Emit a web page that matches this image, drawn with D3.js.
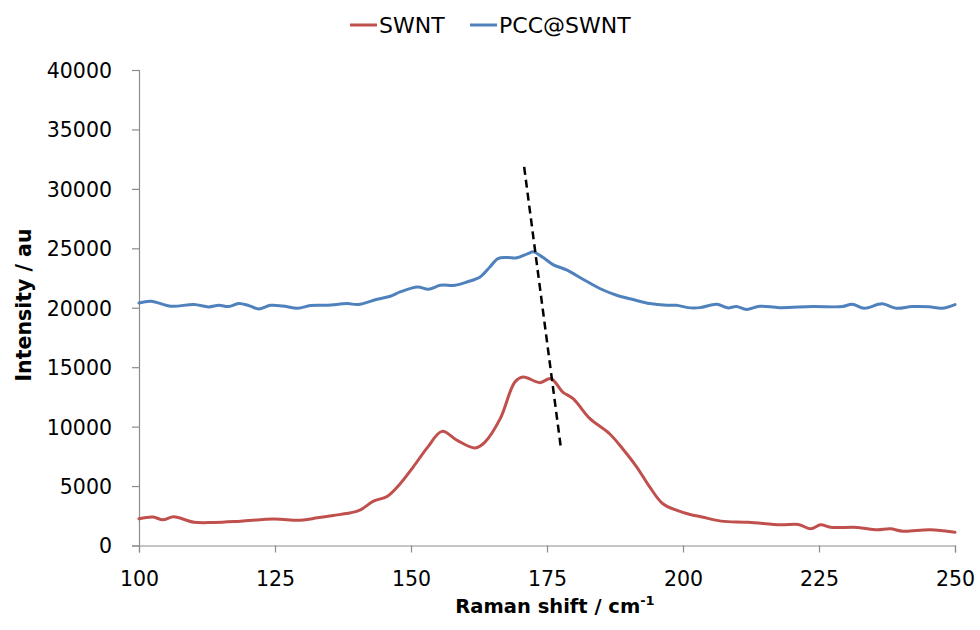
<!DOCTYPE html>
<html>
<head>
<meta charset="utf-8">
<script src="https://cdn.jsdelivr.net/npm/d3@7"></script>
<style>
  html, body { margin: 0; padding: 0; background: #fff; }
  svg text { font-family: "DejaVu Sans", sans-serif; fill: #000; }
</style>
</head>
<body>
<svg id="chart" width="980" height="630"></svg>
<script>
// ---- data ----
const seriesNames = ["SWNT", "PCC@SWNT"];
const seriesColors = ["#C0504D", "#4F81BD"];

const swntX = [100, 102.6, 104.4, 106.4, 110.1, 113.8, 118.7, 124.8, 129.7, 132.8, 135.7, 138.9, 140.7, 143.1, 145.6, 148.0, 150.4, 153.0, 155.7, 158.5, 161.8, 163.6, 166.4, 169.1, 170.6, 173.7, 175.7, 177.9, 179.8, 182.9, 186.5, 188.9, 191.5, 193.9, 196.3, 198.9, 201.3, 203.5, 207.0, 212.0, 218.0, 221.2, 223.5, 225.3, 227.1, 232.1, 235.7, 238.1, 240.5, 245.4, 250];
const swntY = [2250, 2390, 2160, 2410, 1960, 1940, 2050, 2220, 2130, 2330, 2530, 2750, 3000, 3730, 4130, 5200, 6600, 8230, 9600, 8840, 8200, 8700, 10670, 13750, 14170, 13700, 14050, 12910, 12350, 10670, 9400, 8140, 6600, 4910, 3510, 2950, 2610, 2400, 2050, 1960, 1740, 1770, 1400, 1740, 1540, 1520, 1320, 1400, 1200, 1320, 1120];

const pccX = [100, 102.2, 105.9, 110.1, 112.8, 114.7, 116.5, 118.3, 120.2, 122.0, 124.2, 126.4, 129.2, 131.5, 134.7, 138.3, 140.3, 143.8, 146.2, 148.0, 151.2, 153.2, 155.4, 158.1, 160.3, 162.7, 164.5, 166.0, 167.7, 169.5, 171.5, 172.5, 174.3, 176.1, 178.7, 181.6, 184.7, 187.8, 190.8, 193.9, 197.0, 198.8, 200.9, 203.1, 206.2, 208.2, 209.8, 211.7, 214.1, 217.7, 223.8, 229.3, 231.1, 233.3, 236.6, 239.2, 242.1, 245.2, 247.6, 250];
const pccY = [20400, 20550, 20130, 20270, 20070, 20210, 20100, 20350, 20180, 19900, 20210, 20150, 19960, 20180, 20210, 20350, 20270, 20720, 20970, 21330, 21750, 21560, 21890, 21890, 22170, 22590, 23430, 24140, 24220, 24200, 24560, 24700, 24220, 23630, 23160, 22400, 21620, 21050, 20690, 20350, 20210, 20210, 20010, 20010, 20300, 19990, 20100, 19850, 20130, 20010, 20100, 20100, 20300, 19960, 20330, 19960, 20100, 20080, 19960, 20270];

const xTicks = [100, 125, 150, 175, 200, 225, 250];
const yTicks = [0, 5000, 10000, 15000, 20000, 25000, 30000, 35000, 40000];

// dashed guide line (data coordinates)
const guideX = [170.8, 177.5];
const guideY = [31850, 8400];

const xTitle = "Raman shift / cm";
const xTitleSup = "-1";
const yTitle = "Intensity / au";

// ---- layout ----
const svg = d3.select("#chart");
const mLeft = 139, mRight = 955, mTop = 70, mBottom = 545.5;

const x = d3.scaleLinear().domain([100, 250]).range([mLeft, mRight]);
const y = d3.scaleLinear().domain([0, 40000]).range([mBottom, mTop]);

const axisColor = "#8c8c8c";

// y axis
const yAxis = svg.append("g")
  .attr("transform", `translate(${mLeft},0)`)
  .call(d3.axisLeft(y).tickValues(yTicks).tickSize(7).tickPadding(20).tickFormat(d3.format("d")));
// x axis
const xAxis = svg.append("g")
  .attr("transform", `translate(0,${mBottom})`)
  .call(d3.axisBottom(x).tickValues(xTicks).tickSize(7).tickPadding(19).tickFormat(d3.format("d")));

[yAxis, xAxis].forEach(g => {
  g.select(".domain").attr("stroke", axisColor).attr("stroke-width", 1.2);
  g.selectAll(".tick line").attr("stroke", axisColor).attr("stroke-width", 1.2);
  g.selectAll(".tick text").attr("font-size", 20.5).attr("font-family", "DejaVu Sans, sans-serif").attr("fill", "#000");
});
yAxis.selectAll(".tick text").attr("dy", "0.36em");

// lines
const line = d3.line()
  .x(d => x(d[0]))
  .y(d => y(d[1]))
  .curve(d3.curveCatmullRom.alpha(0.5));

const seriesData = [
  swntX.map((v, i) => [v, swntY[i]]),
  pccX.map((v, i) => [v, pccY[i]])
];

seriesData.forEach((data, i) => {
  svg.append("path")
    .datum(data)
    .attr("fill", "none")
    .attr("stroke", seriesColors[i])
    .attr("stroke-width", 3)
    .attr("stroke-linejoin", "round")
    .attr("stroke-linecap", "round")
    .attr("d", line);
});

// dashed guide
svg.append("line")
  .attr("x1", x(guideX[0])).attr("y1", y(guideY[0]))
  .attr("x2", x(guideX[1])).attr("y2", y(guideY[1]))
  .attr("stroke", "#000")
  .attr("stroke-width", 2.5)
  .attr("stroke-dasharray", "8,5");

// axis titles
svg.append("text")
  .attr("x", (mLeft + mRight) / 2 + 8)
  .attr("y", 613)
  .attr("text-anchor", "middle")
  .attr("font-size", 19.5)
  .attr("font-weight", "bold")
  .text(xTitle)
  .append("tspan")
  .attr("dy", -8)
  .attr("font-size", 13)
  .text(xTitleSup);

svg.append("text")
  .attr("transform", `translate(31,305) rotate(-90)`)
  .attr("text-anchor", "middle")
  .attr("font-size", 20.5)
  .attr("font-weight", "bold")
  .text(yTitle);

// legend
const legendX = [350, 470];
const legend = svg.append("g");
seriesNames.forEach((name, i) => {
  legend.append("line")
    .attr("x1", legendX[i]).attr("x2", legendX[i] + 27)
    .attr("y1", 25).attr("y2", 25)
    .attr("stroke", seriesColors[i]).attr("stroke-width", 3);
  legend.append("text")
    .attr("x", legendX[i] + 29)
    .attr("y", 32.5)
    .attr("font-size", 22)
    .text(name);
});
</script>
</body>
</html>
